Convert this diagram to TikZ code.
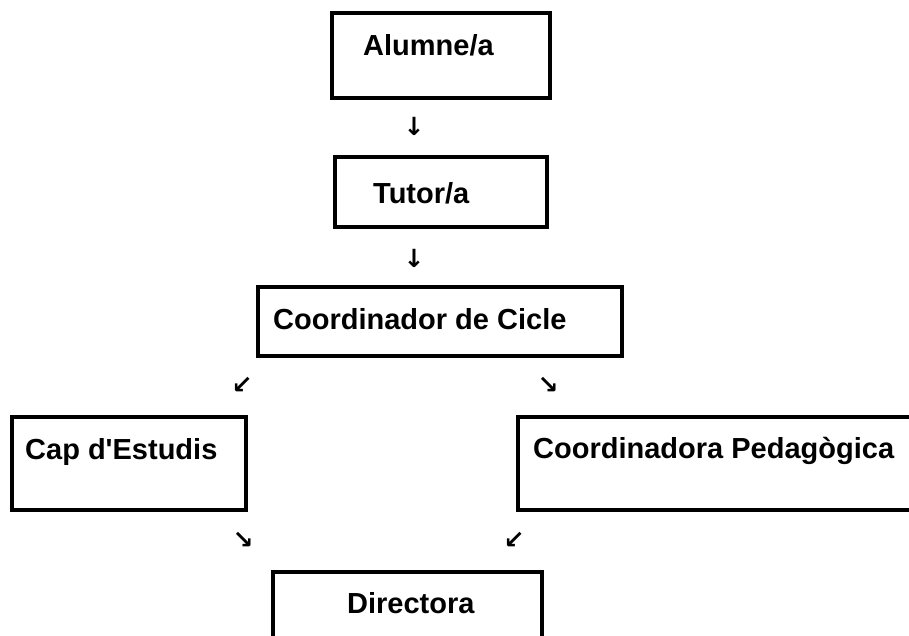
\documentclass[tikz,border=0pt]{standalone}
\usepackage{fontspec}
\setmainfont{Liberation Sans}[Ligatures=TeXOff]
\newfontfamily\arrowfont{DejaVu Sans}
\begin{document}
\begin{tikzpicture}[x=1pt,y=-1pt,
  box/.style={draw, line width=3.5pt, rectangle, inner sep=0pt},
  lbl/.style={font=\fontsize{29}{34}\selectfont\bfseries, anchor=base west, inner sep=0pt},
  arr/.style={font=\arrowfont\bfseries\fontsize{25}{28}\selectfont, inner sep=0pt}]
\useasboundingbox (0,0) rectangle (909,635);
\clip (0,0) rectangle (909,635);
% boxes
\node[box, minimum width=218pt, minimum height=85pt] (alumne) at (441,55.5) {};
\node[box, minimum width=212pt, minimum height=70pt] (tutor) at (441,192) {};
\node[box, minimum width=364pt, minimum height=69pt] (coord) at (440,321.5) {};
\node[box, minimum width=234pt, minimum height=93pt] (cap) at (129,463.5) {};
\node[box, minimum width=422pt, minimum height=93pt] (pedag) at (729,463.5) {};
\node[box, minimum width=269pt, minimum height=88pt] (dir) at (407.5,616) {};
% labels
\node[lbl] (alumneT) at (363,55) {Alumne/a};
\node[lbl] (tutorT) at (373,203) {Tutor/a};
\node[lbl] (coordT) at (273,329) {Coordinador de Cicle};
\node[lbl] (capT) at (25,459) {Cap d'Estudis};
\node[lbl] (pedagT) at (533,458) {Coordinadora Pedagògica};
\node[lbl] (dirT) at (347,613) {Directora};
% arrow glyphs
\node[arr] (a1) at (414,126) {↓};
\node[arr] (a2) at (414,258) {↓};
\node[arr] (a3) at (242,385) {↙};
\node[arr] (a4) at (548,385) {↘};
\node[arr] (a5) at (243,540) {↘};
\node[arr] (a6) at (514,540) {↙};
\end{tikzpicture}
\end{document}
